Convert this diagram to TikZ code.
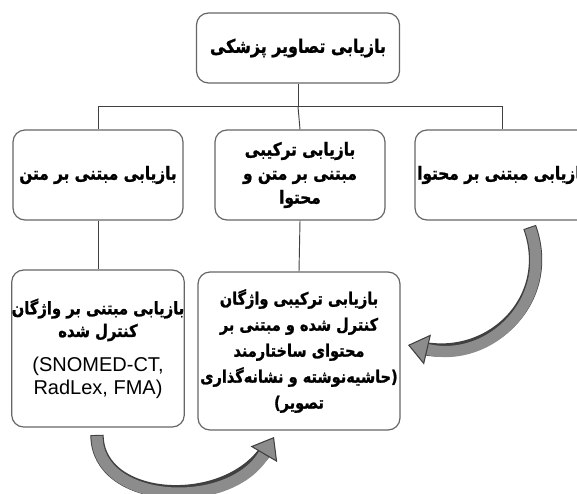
\documentclass[tikz,border=0pt]{standalone}
\usepackage{fontspec}
\setmainfont{Liberation Sans}
\newfontfamily\fa[Script=Arabic, FakeStretch=0.85, FakeBold=1.2]{DejaVu Sans Bold}
\TeXXeTstate=1
\usetikzlibrary{arrows.meta, positioning}
\newcommand\rl[1]{\beginR#1\endR}

\begin{document}
\begin{tikzpicture}[x=0.75pt, y=-0.75pt,
    box/.style={draw=black!60, line width=0.9pt, rounded corners=9pt, fill=white,
      align=center, inner sep=0pt, font=\fa\fontsize{13.5}{18}\selectfont},
    link/.style={draw=black!75, line width=0.7pt},
    bendline/.style={line width=10pt, draw=black!75, shorten >=8pt, shorten <=-0.8pt},
    bendfill/.style={line width=8.4pt, draw=gray!90,
      -{Triangle[length=15pt, width=23pt, fill=gray!90, color=black!75, line width=0.8pt]}}
  ]
  \useasboundingbox (0,0) rectangle (577,493);
  \clip (0,0) rectangle (577,493);

  % boxes
  \node[box, minimum width=152.25pt, minimum height=52.5pt,
    font=\fa\fontsize{14}{18}\selectfont] (root) at (298,48) {\rl{بازیابی تصاویر پزشکی}};
  \node[box, minimum width=127.5pt, minimum height=67.5pt] (txt) at (98,175) {\rl{بازیابی مبتنی بر متن}};
  \node[box, minimum width=127.5pt, minimum height=67.5pt] (hyb) at (300,175)
    {\rl{بازیابی ترکیبی}\\ \rl{مبتنی بر متن و}\\ \rl{محتوا}};
  \node[box, minimum width=130.5pt, minimum height=67.5pt] (cnt) at (502,175) {\rl{بازیابی مبتنی بر محتوا}};
  \node[box, minimum width=127.5pt, minimum height=117.75pt,
    font=\fa\fontsize{13}{17}\selectfont] (voc) at (98,348.5)
    {\rl{بازیابی مبتنی بر واژگان}\\ \rl{کنترل شده}\\[9pt]
     {\normalfont\fontsize{15}{17}\selectfont (SNOMED-CT,}\\
     {\normalfont\fontsize{15}{17}\selectfont RadLex, FMA)}};
  \node[box, minimum width=151.5pt, minimum height=118.5pt,
    font=\fa\fontsize{12.8}{19.5}\selectfont] (mix) at (299,351)
    {\rl{بازیابی ترکیبی واژگان}\\ \rl{کنترل شده و مبتنی بر}\\ \rl{محتوای ساختارمند}\\
     \rl{(حاشیه‌نوشته و نشانه‌گذاری}\\ \rl{تصویر)}};

  % tree lines
  \draw[link] (root.south) -- ++(0,23) coordinate (bus);
  \draw[link] (bus) -| (txt.north);
  \draw[link] (bus) -| (cnt.north);
  \draw[link] (bus) -- (hyb.north);
  \draw[link] (txt.south) -- (voc.north);
  \draw[link] (hyb.south) -- (mix.north);

  % curved arrows
  \coordinate (s1) at (530,228);
  \coordinate (e1) at (408,345);
  \draw[bendline] (s1) .. controls (556,300) and (490,364) .. (e1);
  \draw[bendfill] (s1) .. controls (556,300) and (490,364) .. (e1);
  \coordinate (s2) at (97,436);
  \coordinate (e2) at (274,437);
  \draw[bendline] (s2) .. controls (97,505) and (230,512) .. (e2);
  \draw[bendfill] (s2) .. controls (97,505) and (230,512) .. (e2);
\end{tikzpicture}
\end{document}
